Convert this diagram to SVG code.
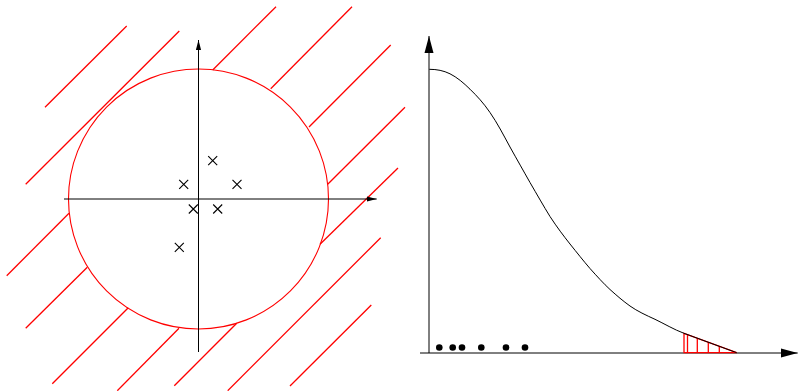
<svg xmlns="http://www.w3.org/2000/svg" width="798" height="391" viewBox="0 0 798 391">
<style>
.hatch{stroke:#ff0000;stroke-width:1.3;fill:none}
.ring{stroke:#ff0000;stroke-width:1.1;fill:none}
.axis{stroke:#000;stroke-width:1;fill:none}
.cross{stroke:#000;stroke-width:1.1;fill:none}
.red{stroke:#ff0000;stroke-width:1.3;fill:none}
</style>
<defs>
<marker id="arrS" markerWidth="10" markerHeight="6" refX="10" refY="3" orient="auto" markerUnits="userSpaceOnUse"><path d="M0,0.4 L10,3 L0,5.6 Z" fill="#000"/></marker>
<marker id="arrL" markerWidth="17" markerHeight="10" refX="17" refY="5" orient="auto" markerUnits="userSpaceOnUse"><path d="M0,0.5 L17,5 L0,9.5 Z" fill="#000"/></marker>
</defs>
<rect width="798" height="391" fill="#fff"/>
<g id="left-hatching">
<line class="hatch" x1="45" y1="107.3" x2="126.7" y2="26"/>
<line class="hatch" x1="25.7" y1="184.3" x2="179.3" y2="31"/>
<line class="hatch" x1="212.7" y1="70" x2="276" y2="6.7"/>
<line class="hatch" x1="270.7" y1="88.7" x2="352" y2="6.7"/>
<line class="hatch" x1="309" y1="127" x2="390.7" y2="45"/>
<line class="hatch" x1="327.7" y1="184.3" x2="405" y2="107.3"/>
<line class="hatch" x1="320" y1="244.3" x2="398" y2="168"/>
<line class="hatch" x1="6.7" y1="275.7" x2="69" y2="213.3"/>
<line class="hatch" x1="25.7" y1="328.3" x2="87.3" y2="267.3"/>
<line class="hatch" x1="52.3" y1="383.7" x2="128.3" y2="307.7"/>
<line class="hatch" x1="117.3" y1="390.7" x2="179" y2="328.3"/>
<line class="hatch" x1="174.3" y1="385.7" x2="236.7" y2="323.3"/>
<line class="hatch" x1="227.7" y1="390.7" x2="380.7" y2="237.7"/>
<line class="hatch" x1="290" y1="386" x2="371.3" y2="305"/>
</g>
<g id="circle">
<circle cx="198.5" cy="199" r="130" class="ring"/>
</g>
<g id="connectors">
<line class="axis" x1="64" y1="199" x2="376.7" y2="199" marker-end="url(#arrS)"/>
<line class="axis" x1="198.5" y1="352" x2="198.5" y2="40" marker-end="url(#arrS)"/>
<line class="axis" x1="429" y1="353" x2="429" y2="36" marker-end="url(#arrL)"/>
<line class="axis" x1="420" y1="353" x2="797.7" y2="353" marker-end="url(#arrL)"/>
</g>
<g id="crosses" class="cross">
<path d="M208.2,156.2 L217.2,165.2 M217.2,156.2 L208.2,165.2"/>
<path d="M179.2,179.8 L188.2,188.8 M188.2,179.8 L179.2,188.8"/>
<path d="M232.5,179.8 L241.5,188.8 M241.5,179.8 L232.5,188.8"/>
<path d="M188.8,204.5 L197.8,213.5 M197.8,204.5 L188.8,213.5"/>
<path d="M213.2,204.5 L222.2,213.5 M222.2,204.5 L213.2,213.5"/>
<path d="M174.8,242.8 L183.8,251.8 M183.8,242.8 L174.8,251.8"/>
</g>
<g id="tail-hatch" class="red">
<path d="M684,333.3 L736.7,352.7 L684,352.7 Z"/>
<line x1="687.5" y1="334.6" x2="687.5" y2="352.7"/>
<line x1="697.3" y1="338.2" x2="697.3" y2="352.7"/>
<line x1="708.3" y1="342.2" x2="708.3" y2="352.7"/>
<line x1="719.3" y1="346.3" x2="719.3" y2="352.7"/>
</g>
<g id="curve">
<path fill="none" stroke="#000" stroke-width="1" d="M429.3,69.3 C437,69.3 443.5,70.6 450,73.8 C457,77.3 463.5,82.8 470,89.2 C477,96 483.5,103 490,112.5 C497,122.5 503.5,135 510,147 C517,159.5 523.5,171 530,182.5 C537,194.5 543.5,206 550,216.5 C557,227.2 563.5,235.8 570,244 C577,252.7 583.5,261 590,268.5 C597,276.3 603.5,283.5 610,289.5 C617,295.8 623,301 630,306 C637.5,311.3 646,315.2 655,319.3 C664,323.6 674,329.6 684,333.3 L736.7,352.7"/>
</g>
<g id="dots" fill="#000">
<circle cx="439.3" cy="347.5" r="3.3"/>
<circle cx="452.7" cy="347.5" r="3.3"/>
<circle cx="462" cy="347.5" r="3.3"/>
<circle cx="481.3" cy="347.5" r="3.3"/>
<circle cx="506" cy="347.5" r="3.3"/>
<circle cx="525" cy="347.5" r="3.3"/>
</g>
</svg>
